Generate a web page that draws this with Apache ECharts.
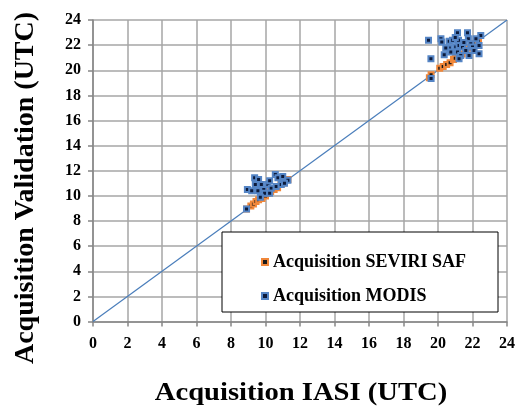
<!DOCTYPE html>
<html><head><meta charset="utf-8">
<script src="https://cdn.jsdelivr.net/npm/echarts@6/dist/echarts.min.js"></script>
<style>html,body{margin:0;padding:0;background:#fff}#c{width:518px;height:410px}</style>
</head><body><div id="c"></div>
<script>
var xTicks = [0,2,4,6,8,10,12,14,16,18,20,22,24];
var yTicks = [0,2,4,6,8,10,12,14,16,18,20,22,24];
var seviriSaf = [
  [8.9,8.95],[9.15,9.2],[9.3,9.35],[9.45,9.55],[9.6,9.7],[9.8,9.8],[10.0,10.0],[10.1,10.2],
  [10.3,10.35],[10.5,10.5],[10.7,10.65],[10.9,10.9],[11.1,11.05],[11.3,11.3],
  [19.5,19.4],[19.6,19.65],[20.1,20.15],[20.3,20.3],[20.5,20.45],[20.7,20.6],[20.9,20.85],
  [21.0,20.95],[21.2,21.1],[21.4,21.3],[21.6,21.55],[21.8,21.75],[22.0,21.95],[22.2,22.15],[22.35,22.3]
];
var modis = [
  [8.9,8.95],[8.95,10.5],[9.2,10.4],[9.37,11.45],[9.6,11.3],[9.41,10.9],[9.76,10.9],[10.14,10.9],
  [10.24,11.2],[10.57,11.7],[10.72,11.45],[11.0,11.55],[11.3,11.25],[9.56,10.4],[9.9,10.5],
  [10.33,10.6],[10.62,10.75],[10.91,10.9],[11.1,11.0],[9.95,10.2],[10.24,10.2],[9.7,9.9],
  [19.45,22.38],[19.59,20.92],[20.17,22.51],[20.22,22.24],[20.65,22.3],[20.84,22.38],[21.13,22.99],
  [21.19,22.38],[21.71,22.99],[21.76,22.51],[22.48,22.77],[20.65,21.77],[21.03,21.85],[21.22,21.98],
  [21.42,21.85],[21.9,22.11],[22.0,21.85],[22.38,21.98],[20.74,21.45],[21.13,21.45],[21.61,21.58],
  [22.09,21.58],[22.38,21.32],[20.36,21.24],[21.32,21.18],[21.8,21.18],[21.22,20.92],[20.45,21.77],
  [19.6,19.35],[21.0,22.6],[21.5,22.2],[22.2,22.5]
];
var diagonal = [[0,0],[24,24]];

var chart = echarts.init(document.getElementById('c'));
var font = 'Liberation Serif';
function axis(ticks){
  return {
    type:'value', min:ticks[0], max:ticks[ticks.length-1], interval:ticks[1]-ticks[0],
    axisLine:{show:true, lineStyle:{color:'#868686', width:1.5}},
    axisTick:{show:true, length:5, lineStyle:{color:'#868686', width:1.5}},
    splitLine:{show:true, lineStyle:{color:'#a6a6a6', width:1.5}},
    axisLabel:{color:'#000', fontFamily:font, fontWeight:'bold', fontSize:16}
  };
}
var xa = axis(xTicks); xa.axisLabel.margin = 14;
var ya = axis(yTicks); ya.axisLabel.margin = 12;
chart.setOption({
  animation:false,
  grid:{left:93, right:10, top:20, bottom:88.5, containLabel:false},
  xAxis:xa, yAxis:ya,
  legend:{
    orient:'vertical', left:256, top:248, itemGap:16, itemWidth:6, itemHeight:6, z:20,
    textStyle:{fontFamily:font, fontWeight:'bold', fontSize:18, color:'#000'},
    data:[{name:'Acquisition SEVIRI SAF', icon:'rect'},{name:'Acquisition MODIS', icon:'rect'}]
  },
  graphic:[
    {type:'rect', z:10, shape:{x:222, y:232, width:276, height:80}, style:{fill:'#fff', stroke:'#000', lineWidth:1}},
    {type:'text', z:10, x:301, y:393, scaleX:1.1, style:{text:'Acquisition IASI (UTC)', font:'bold 26px "Liberation Serif"', fill:'#000', align:'center', verticalAlign:'middle'}},
    {type:'text', z:10, x:26, y:188, rotation:Math.PI/2, style:{text:'Acquisition Validation (UTC)', font:'bold 28px "Liberation Serif"', fill:'#000', align:'center', verticalAlign:'middle'}}
  ],
  series:[
    {type:'line', data:diagonal, symbol:'none', lineStyle:{color:'#4a7ebb', width:1.2}, silent:true, z:1},
    {name:'Acquisition SEVIRI SAF', type:'scatter', data:seviriSaf, symbol:'rect', symbolSize:5,
      itemStyle:{color:'#1a1a1a', borderColor:'#f0873a', borderWidth:2, opacity:1}, z:3},
    {name:'Acquisition MODIS', type:'scatter', data:modis, symbol:'rect', symbolSize:5,
      itemStyle:{color:'#0c1a3a', borderColor:'#5585c5', borderWidth:2, opacity:1}, z:4}
  ]
});
</script></body></html>
